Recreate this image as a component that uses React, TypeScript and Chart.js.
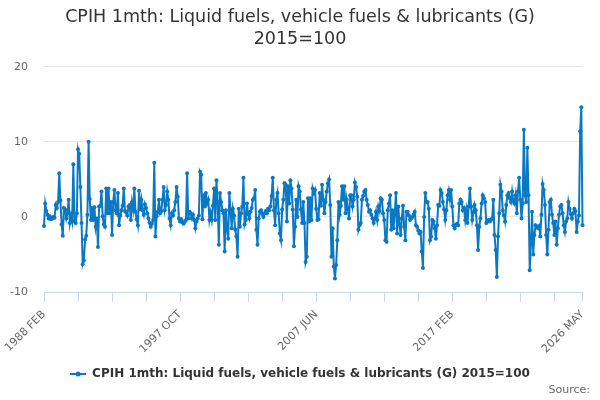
import { useEffect, useRef } from 'react'
import { Chart, registerables } from 'chart.js'

Chart.register(...registerables)

// monthly % change
const fuel1988to1997 = [
  -1.2, 1.8, 0.8, 0.3, -0.2, 0.1, -0.3, -0.2, 0.0, -0.1,
  1.6, 1.2, 2.0, 5.8, 2.2, -1.0, -2.5, 1.2, 1.0, -0.2,
  0.5, 2.3, -0.8, 0.2, -0.6, 7.0, -0.5, -0.8, 0.5, 9.0,
  8.4, 4.0, -0.8, -6.3, -5.8, -3.0, -2.5, 0.3, 10.0, 2.4,
  -0.4, 1.2, -0.4, 1.3, -1.3, -0.2, -4.0, 1.4, 1.5, 3.4,
  0.1, -1.0, -1.3, 3.8, 0.5, 3.8, 0.5, 2.0, -2.4, 2.0,
  3.6, 0.9, 0.5, 3.2, -1.1, 0.2, 0.9, 1.5, 3.8, 0.8,
  0.6, 0.2, 1.4, 1.6, -0.4, 2.0, 1.0, 3.8, 0.7, -0.3,
  -1.1, 3.5, 1.0, 2.3, 0.9, 0.3, 1.7, 1.2, 0.5, -0.2,
  -0.8, -1.3, -0.9, -0.4, 7.2, -2.6, 0.1, 0.7, 2.3, 0.5,
  0.8, 2.3, 4.0, 0.9, 1.6, 3.4, 2.3, -0.2, -1.1, 0.5,
  0.2, 0.9, 2.0, 4.0, 2.7, -0.2, -0.6, -0.3, -0.7,
]

const fuel1998to2007 = [
  -0.9,
  -0.6, -0.4, 5.8, -0.2, 0.7, 0.5, -0.2, 0.3, -0.4, -1.5,
  -0.6, -0.2, 0.2, 6.0, 5.6, -0.3, 2.9, 1.4, 3.2, 1.8,
  2.3, -0.4, 0.6, -0.4, 1.5, 3.8, -0.4, 4.9, 2.0, -3.7,
  3.2, 2.0, 0.9, 0.5, -4.6, 0.9, -1.7, -2.9, 3.2, 0.9,
  -1.5, 1.1, 0.2, -1.7, -2.6, -5.3, 1.1, -1.3, 0.5, 1.4,
  5.2, -1.0, -0.4, 1.8, 0.4, -0.2, 0.7, 1.2, 2.3, 2.5,
  3.6, -1.7, -3.7, -0.2, 0.7, 0.9, 0.4, 0.0, 0.5, 0.8,
  0.5, 1.1, 0.9, 1.4, 2.8, 5.2, 0.9, -1.1, 2.3, 3.2,
  0.5, -2.2, -3.1, 1.0, 2.3, 4.5, 4.3, -0.6, 4.1, 1.8,
  4.9, 3.8, 1.0, -3.9, -1.3, 2.3, 0.0, 4.1, 3.4, 1.0,
  -0.8, 2.0, -0.8, -6.0, -5.3, 2.5, -0.6, 2.5, -0.4, 3.8,
  3.2, 3.6, 1.1, -0.4, -0.3, 3.2, 1.5, 4.3, 2.3,
]

const fuel2008to2017 = [
  0.5,
  2.0, 3.4, 4.5, 5.0, 1.6, -5.3, -1.5, -6.6, -8.2, -6.4,
  -3.1, 2.0, 0.3, 1.5, 4.1, 2.3, 4.1, 0.5, 2.3, 1.0,
  -0.2, 2.9, 2.9, 1.4, 2.3, 4.6, 4.0, 2.7, -1.7, -1.1,
  -0.8, 2.3, 2.8, 3.4, 3.6, 2.3, 1.6, 0.7, 0.9, 0.3,
  -0.2, -0.8, -0.2, 0.7, -0.4, 1.4, 0.8, 2.5, 2.3, 0.5,
  -0.4, -3.1, -3.3, 0.9, 1.8, 2.9, -1.7, 0.9, -1.5, 0.5,
  3.2, -2.2, 1.4, -1.0, -2.4, -0.2, 1.5, -1.3, -3.1, 0.7,
  0.7, 0.2, -0.4, -0.2, 0.0, 0.3, 0.7, -1.1, -1.3, -1.8,
  -2.2, -2.0, -4.6, -6.8, 0.0, 3.2, 2.0, 2.0, 1.1, -3.1,
  -2.6, -0.4, -0.6, -1.5, -2.9, -1.1, 1.6, 1.5, 3.6, 3.2,
  2.0, 1.0, -0.4, 0.9, 2.9, 3.6, 2.3, 3.6, 1.4, -1.1,
  -1.5, -1.1, -0.9, -1.1, 1.8, 2.3, 2.0, 0.9, 1.2,
]

const fuel2018to2026 = [
  -0.4,
  0.9, -0.8, 1.4, 3.8, 1.4, -0.4, 0.6, 1.6, 0.9, -1.1,
  -4.4, -1.3, -0.2, 1.8, 2.9, 2.5, 2.0, -0.8, -0.6, -0.4,
  -0.6, -0.4, -0.2, 2.3, -2.4, -4.4, -8.0, -2.6, 0.5, 4.3,
  3.4, 0.9, 0.2, -0.6, 1.6, 2.9, 3.2, 2.5, 2.0, 3.4,
  2.2, 1.8, 2.9, 0.5, 3.4, 5.2, 2.3, -0.2, 1.8, 11.6,
  2.9, 2.0, 9.2, 2.9, -7.1, -3.7, 0.7, -5.0, -2.4, -1.1,
  -1.3, -1.5, -1.2, -2.6, 0.3, 4.4, 3.6, 1.6, -2.4, -5.0,
  -1.7, 2.0, 2.3, 0.3, -0.8, -2.4, -0.6, -3.7, -1.5, 0.3,
  1.4, 1.6, 0.5, -1.1, -2.0, -0.6, -0.2, 2.0, 1.1, 0.4,
  -0.2, 0.5, 1.1, 0.8, -2.0, -0.6, 0.2, 11.4, 14.6, -1.1,
]

const monthNames = ['JAN', 'FEB', 'MAR', 'APR', 'MAY', 'JUN', 'JUL', 'AUG', 'SEP', 'OCT', 'NOV', 'DEC']
const startYear = 1988
const startMonth = 1 // FEB
const tickLabels = ['1988 FEB', '1997 OCT', '2007 JUN', '2017 FEB', '2026 MAY']
const seriesName = 'CPIH 1mth: Liquid fuels, vehicle fuels & lubricants (G) 2015=100'

const values = [...fuel1988to1997, ...fuel1998to2007, ...fuel2008to2017, ...fuel2018to2026]
const labels = values.map((_, i) => {
  const m = startMonth + i
  return `${startYear + Math.floor(m / 12)} ${monthNames[m % 12]}`
})

const BLUE = '#0b78c3'
const TICK_EVERY = 29

function legendMarker() {
  const c = document.createElement('canvas')
  c.width = 16
  c.height = 8
  const g = c.getContext('2d')!
  g.strokeStyle = BLUE
  g.lineWidth = 2
  g.beginPath()
  g.moveTo(0, 4)
  g.lineTo(16, 4)
  g.stroke()
  g.fillStyle = BLUE
  g.beginPath()
  g.arc(8, 4, 2.5, 0, Math.PI * 2)
  g.fill()
  return c
}

const sourcePlugin = {
  id: 'sourceText',
  afterDraw(chart: Chart) {
    const ctx = chart.ctx
    ctx.save()
    ctx.font = "11px 'DejaVu Sans'"
    ctx.fillStyle = '#666666'
    ctx.textAlign = 'right'
    ctx.textBaseline = 'middle'
    ctx.fillText('Source:', 590, 390)
    ctx.restore()
  },
}

export default function App() {
  const chartRef = useRef<HTMLCanvasElement>(null)
  const chartInstance = useRef<Chart | null>(null)

  useEffect(() => {
    if (!chartRef.current) return
    if (chartInstance.current) chartInstance.current.destroy()

    const ctx = chartRef.current.getContext('2d')
    if (!ctx) return

    Chart.defaults.font.family = "'DejaVu Sans', sans-serif"

    const last = values.length - 1

    chartInstance.current = new Chart(ctx, {
      type: 'line',
      data: {
        labels,
        datasets: [
          {
            label: seriesName,
            data: values,
            borderColor: BLUE,
            backgroundColor: BLUE,
            borderWidth: 2,
            pointRadius: 2,
            pointHoverRadius: 3,
            pointBackgroundColor: BLUE,
            pointBorderWidth: 0,
            tension: 0,
            fill: false,
          },
        ],
      },
      options: {
        animation: false,
        responsive: true,
        maintainAspectRatio: false,
        layout: { padding: { top: 0, left: 0, right: 0, bottom: 10 } },
        plugins: {
          title: {
            display: true,
            text: ['CPIH 1mth: Liquid fuels, vehicle fuels & lubricants (G)', '2015=100'],
            color: '#333333',
            font: { size: 17.5, weight: 'normal', lineHeight: 1.25 },
            padding: { top: 7, bottom: 16 },
          },
          legend: {
            position: 'bottom',
            labels: {
              usePointStyle: true,
              pointStyle: legendMarker(),
              pointStyleWidth: 16,
              color: '#333333',
              font: { size: 12, weight: 'bold' },
              padding: 10,
            },
          },
          tooltip: { enabled: false },
        },
        scales: {
          x: {
            type: 'category',
            offset: false,
            border: { display: true, color: '#ccd6eb', width: 1 },
            grid: {
              display: true,
              drawOnChartArea: false,
              drawTicks: true,
              tickLength: 10,
              color: (c: any) =>
                c.index % TICK_EVERY === 0 || c.index === last ? '#ccd6eb' : 'rgba(0,0,0,0)',
            },
            ticks: {
              autoSkip: false,
              maxRotation: 45,
              minRotation: 45,
              color: '#666666',
              font: { size: 11 },
              padding: 6,
              callback: (_v: any, i: number) => (tickLabels.includes(labels[i]) ? labels[i] : ''),
            },
            afterFit: (scale: any) => {
              scale.height = 66
              scale.paddingLeft = 0
              scale.paddingRight = 0
            },
          },
          y: {
            min: -10,
            max: 20,
            border: { display: false },
            grid: { color: '#e6e6e6', drawTicks: false, lineWidth: 1 },
            ticks: {
              stepSize: 10,
              color: '#666666',
              font: { size: 11 },
              padding: 16,
            },
            afterFit: (scale: any) => {
              scale.width = 44
            },
          },
          // empty right-hand strip so the plot ends where the reference does
          yRight: {
            position: 'right',
            display: true,
            min: -10,
            max: 20,
            border: { display: false },
            grid: { display: false },
            ticks: { display: false },
            afterFit: (scale: any) => {
              scale.width = 17.5
            },
          },
        },
      },
      plugins: [sourcePlugin],
    })

    return () => {
      if (chartInstance.current) {
        chartInstance.current.destroy()
        chartInstance.current = null
      }
    }
  }, [])

  return (
    <div style={{ position: 'fixed', left: 0, top: 0, width: 600, height: 400 }}>
      <canvas ref={chartRef} />
    </div>
  )
}
